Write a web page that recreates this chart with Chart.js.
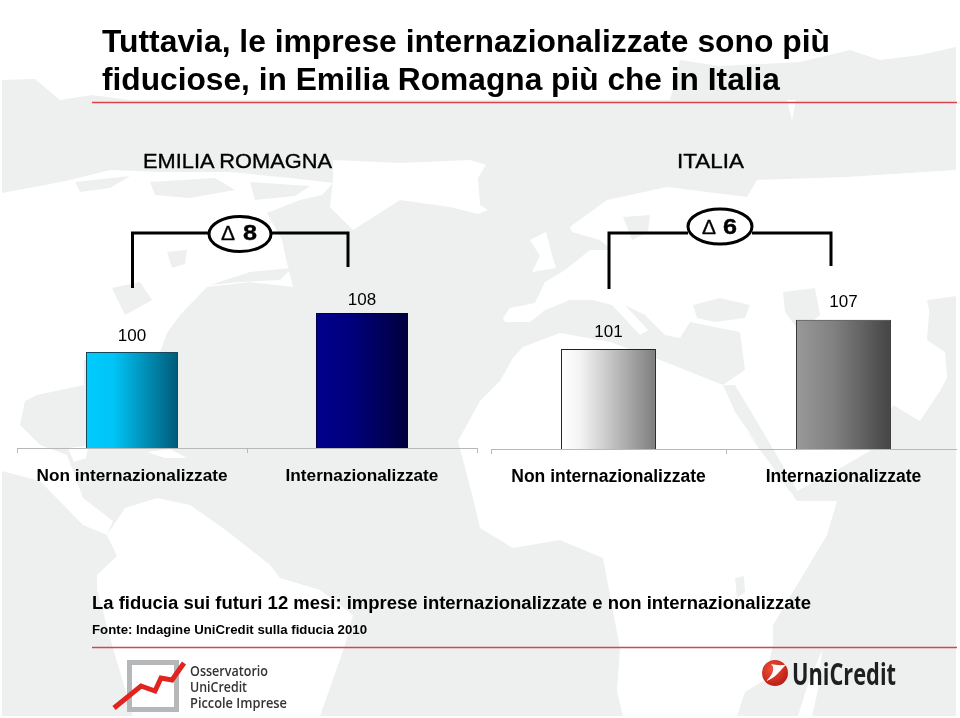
<!DOCTYPE html>
<html lang="it">
<head>
<meta charset="utf-8">
<title>Fiducia imprese internazionalizzate</title>
<script src="https://cdn.jsdelivr.net/npm/chart.js@4/dist/chart.umd.min.js"></script>
<style>
html, body { margin: 0; padding: 0; background: #fff; overflow: hidden; }
#page { position: relative; width: 960px; height: 718px; overflow: hidden; font-family: "Liberation Sans", Arial, sans-serif; }
#page svg { position: absolute; left: 0; top: 0; }
.box { position: absolute; }
</style>
</head>
<body>
<div id="page">
  <!-- world map behind the slide -->
  <svg width="960" height="718" viewBox="0 0 960 718">
    <polygon fill="#eef0f0" points="2,80 35,79 60,100 92,95 130,100 670,100 680,60 720,66 800,62 850,50 880,60 920,55 956,47 956,716 2,716"/>
    <g fill="#fff">
      <polygon points="787,100 796,100 792,120"/>
      <!-- north america -->
      <polygon points="2,193 40,186 70,180 110,170 160,172 230,172 290,178 333,183 322,195 300,200 267,213 282,240 287,263 293,287 250,282 207,287 180,315 167,333 157,360 84,360 84,385 37,395 25,401 20,425 40,445 67,455 83,498 113,521 107,535 83,525 40,481 2,471"/>
      <polygon points="147,452 170,449 187,458 165,458"/>
      <polygon points="68,448 88,446 86,458 74,462"/>
      <!-- south america -->
      <polygon points="107,535 125,508 157,498 190,505 227,531 270,565 280,578 320,590 353,615 345,645 337,668 320,716 133,716 113,648 97,590 97,575 117,556"/>
      <!-- greenland -->
      <polygon points="333,160 400,163 470,160 486,165 478,178 480,205 488,210 478,214 450,207 400,200 353,230 330,207 333,180"/>
      <!-- europe, asia -->
      <polygon points="570,227 607,200 667,187 747,197 757,180 847,177 956,170 956,296 930,300 927,340 945,352 947,378 940,391 920,421 893,405 870,451 837,470 797,491 780,470 745,430 723,385 745,370 740,332 690,322 680,338 665,335 645,315 625,305 648,330 640,335 612,305 593,300 570,300 545,310 530,322 505,322 503,318 510,308 535,303 545,282 565,270 590,250 612,250 600,240 572,232"/>
      <!-- africa -->
      <polygon points="513,358 523,347 560,333 610,342 660,360 723,385 745,430 775,470 797,501 837,501 827,535 773,625 773,645 765,680 745,692 737,716 623,716 617,691 620,648 613,611 603,558 560,540 513,548 480,528 473,498 458,441 480,401 500,381"/>
      <!-- uk, madagascar -->
      <polygon points="530,240 546,232 552,255 556,268 532,272 540,256"/>
      <polygon points="822,650 818,690 812,716 798,716 806,690"/>
    </g>
    <g fill="#eef0f0">
      <polygon points="623,217 650,215 648,232 632,240"/>
      <polygon points="693,305 720,298 750,305 745,318 715,322 697,318"/>
      <polygon points="783,292 815,288 820,315 800,332 785,312"/>
      <polygon points="927,300 956,297 956,342 935,338"/>
      <polygon points="723,385 735,385 762,430 797,490 790,492 758,445 735,412"/>
      <polygon points="735,578 744,576 745,592 737,598"/>
      <!-- hudson, laghi, artico -->
      <polygon points="167,252 187,250 185,264 172,268"/>
      <polygon points="112,288 140,282 152,300 125,315"/>
      <polygon points="210,285 250,272 292,268 280,280 240,282"/>
      <polygon points="75,182 130,176 110,188 80,192"/>
      <polygon points="150,182 215,178 235,190 190,198 155,195"/>
      <polygon points="250,182 310,186 295,196 255,200"/>
    </g>
    <line x1="92" y1="102.5" x2="957" y2="102.5" stroke="#d8434c" stroke-width="1.5"/>
    <line x1="92" y1="647.5" x2="957" y2="647.5" stroke="#d8434c" stroke-width="1.5"/>
  </svg>

  <div class="box" style="left:0;top:250px;width:480px;height:240px"><canvas id="chart-emilia"></canvas></div>
  <div class="box" style="left:480px;top:251px;width:482px;height:240px"><canvas id="chart-italia"></canvas></div>

  <svg width="960" height="718" viewBox="0 0 960 718">
    <rect x="957" y="0" width="3" height="718" fill="#fff"/>
    <g font-weight="bold" fill="#000">
      <text id="title1" x="102" y="52" font-size="31.5" textLength="728" lengthAdjust="spacingAndGlyphs"></text>
      <text id="title2" x="102" y="90" font-size="31.5" textLength="678" lengthAdjust="spacingAndGlyphs"></text>
      <text id="foot1" x="92" y="609" font-size="18" textLength="719" lengthAdjust="spacingAndGlyphs"></text>
      <text id="foot2" x="92" y="634" font-size="13" textLength="275" lengthAdjust="spacingAndGlyphs"></text>
    </g>
    <g font-size="21" fill="#000" stroke="#000" stroke-width="0.35">
      <text id="region1" x="143" y="168" textLength="189" lengthAdjust="spacingAndGlyphs"></text>
      <text id="region2" x="677" y="168" textLength="67" lengthAdjust="spacingAndGlyphs"></text>
    </g>

    <!-- brackets -->
    <g fill="none" stroke="#000" stroke-width="3">
      <polyline points="132.5,288 132.5,233 210,233"/>
      <polyline points="271,233 348,233 348,267"/>
      <ellipse cx="240" cy="234" rx="31" ry="17.5" fill="#fff"/>
      <polyline points="609,289 609,233 688,233"/>
      <polyline points="752,233 831,233 831,266"/>
      <ellipse cx="720" cy="226.5" rx="32" ry="17.5" fill="#fff"/>
    </g>
    <g fill="#000">
      <text x="221" y="240" font-size="20" stroke="#000" stroke-width="0.3" textLength="14" lengthAdjust="spacingAndGlyphs">Δ</text>
      <text id="delta1" x="243" y="240" font-size="22" font-weight="bold" stroke="#000" stroke-width="0.4" textLength="14" lengthAdjust="spacingAndGlyphs"></text>
      <text x="702" y="234" font-size="20" stroke="#000" stroke-width="0.3" textLength="14" lengthAdjust="spacingAndGlyphs">Δ</text>
      <text id="delta2" x="723" y="234" font-size="22" font-weight="bold" stroke="#000" stroke-width="0.4" textLength="14" lengthAdjust="spacingAndGlyphs"></text>
    </g>

    <!-- logo osservatorio -->
    <rect x="129.5" y="662.5" width="47" height="47" fill="none" stroke="#b5b7b9" stroke-width="5"/>
    <polyline points="114,708 141,686 155,691 161,678 172,680 184,663" fill="none" stroke="#e1241f" stroke-width="5"/>
    <g font-family="'Open Sans', sans-serif" font-size="15" font-weight="600" fill="#333">
      <text x="190" y="676" textLength="78" lengthAdjust="spacingAndGlyphs">Osservatorio</text>
      <text x="190" y="692" textLength="57" lengthAdjust="spacingAndGlyphs">UniCredit</text>
      <text x="190" y="708" textLength="97" lengthAdjust="spacingAndGlyphs">Piccole Imprese</text>
    </g>

    <!-- logo unicredit -->
    <defs>
      <radialGradient id="ball" cx="0.4" cy="0.35" r="0.75">
        <stop offset="0" stop-color="#f0523a"/>
        <stop offset="1" stop-color="#b5150f"/>
      </radialGradient>
    </defs>
    <circle cx="775" cy="673" r="13" fill="url(#ball)"/>
    <path d="M766,681 C772,676 776,668 771,664 C776,665 782,666 787,664 C780,670 776,678 766,681 Z" fill="#fff"/>
    <text x="792" y="685" font-family="'Open Sans', sans-serif" font-size="31" font-weight="700" fill="#1f1f1f" textLength="104" lengthAdjust="spacingAndGlyphs">UniCredit</text>
  </svg>
</div>

<script>
// testi
const titleLines = ["Tuttavia, le imprese internazionalizzate sono più", "fiduciose, in Emilia Romagna più che in Italia"];
const regions = ["EMILIA ROMAGNA", "ITALIA"];
const footLines = ["La fiducia sui futuri 12 mesi: imprese internazionalizzate e non internazionalizzate", "Fonte: Indagine UniCredit sulla fiducia 2010"];

// dati
const categories = ["Non internazionalizzate", "Internazionalizzate"];
const valuesEmilia = [100, 108];
const valuesItalia = [101, 107];
const deltas = ["8", "6"];

document.getElementById("title1").textContent = titleLines[0];
document.getElementById("title2").textContent = titleLines[1];
document.getElementById("region1").textContent = regions[0];
document.getElementById("region2").textContent = regions[1];
document.getElementById("foot1").textContent = footLines[0];
document.getElementById("foot2").textContent = footLines[1];
document.getElementById("delta1").textContent = deltas[0];
document.getElementById("delta2").textContent = deltas[1];

// gradient left to right inside each bar
function barFill(stops, share) {
    return function (ctx) {
        const chart = ctx.chart;
        if (!chart.chartArea) return stops[0][1];
        const xs = chart.scales.x;
        const cx = xs.getPixelForValue(ctx.dataIndex);
        const half = xs.width / categories.length * share / 2;
        const g = chart.ctx.createLinearGradient(cx - half, 0, cx + half, 0);
        stops.forEach(s => g.addColorStop(s[0], s[1]));
        return g;
    };
}

// value printed above each bar
function valueLabels(gaps) {
    return {
        id: "valueLabels",
        afterDatasetsDraw(chart) {
            const c = chart.ctx;
            const meta = chart.getDatasetMeta(0);
            c.save();
            c.font = "17px 'Liberation Sans'";
            c.fillStyle = "#000";
            c.textAlign = "center";
            c.textBaseline = "middle";
            meta.data.forEach((bar, i) => {
                c.fillText(chart.data.datasets[0].data[i], bar.x, bar.y - gaps[i]);
            });
            c.restore();
        }
    };
}

function makeChart(id, values, min, max, padLeft, padRight, share, fontSize, fills, borders, gaps) {
    return new Chart(document.getElementById(id), {
        type: 'bar',
        data: {
            labels: categories,
            datasets: [{
                data: values,
                backgroundColor: ctx => barFill(fills[ctx.dataIndex], share)(ctx),
                borderColor: borders,
                borderWidth: 1,
                borderSkipped: false,
                barPercentage: 1,
                categoryPercentage: share
            }]
        },
        options: {
            responsive: true,
            maintainAspectRatio: false,
            animation: false,
            layout: { padding: { left: padLeft, right: padRight, top: 0, bottom: 0 } },
            plugins: { legend: { display: false }, title: { display: false }, tooltip: { enabled: false } },
            scales: {
                x: {
                    afterFit: s => { s.height = 42; },
                    border: { color: "#b8b8b8" },
                    grid: { offset: true, drawOnChartArea: false, tickColor: "#b8b8b8", tickLength: 5 },
                    ticks: { color: "#000", padding: 13, maxRotation: 0, autoSkip: false, font: { family: "'Liberation Sans'", size: fontSize, weight: "bold" } }
                },
                y: { display: false, min: min, max: max }
            }
        },
        plugins: [valueLabels(gaps)]
    });
}

makeChart("chart-emilia", valuesEmilia, 80.3, 120.9, 17, 3, 0.4, 17.2,
    [[[0, "#00ccff"], [0.3, "#00c4f5"], [1, "#005a78"]], [[0, "#00008c"], [0.35, "#000080"], [1, "#00003c"]]],
    ["#17475a", "#00004a"], [16, 13]);
makeChart("chart-italia", valuesItalia, 80.5, 121.1, 11, 1, 0.404, 17.5,
    [[[0, "#ffffff"], [0.2, "#f4f4f4"], [1, "#7d7d7d"]], [[0, "#999999"], [0.4, "#808080"], [1, "#444444"]]],
    ["#222222", "#333333"], [17, 17]);
</script>
</body>
</html>
